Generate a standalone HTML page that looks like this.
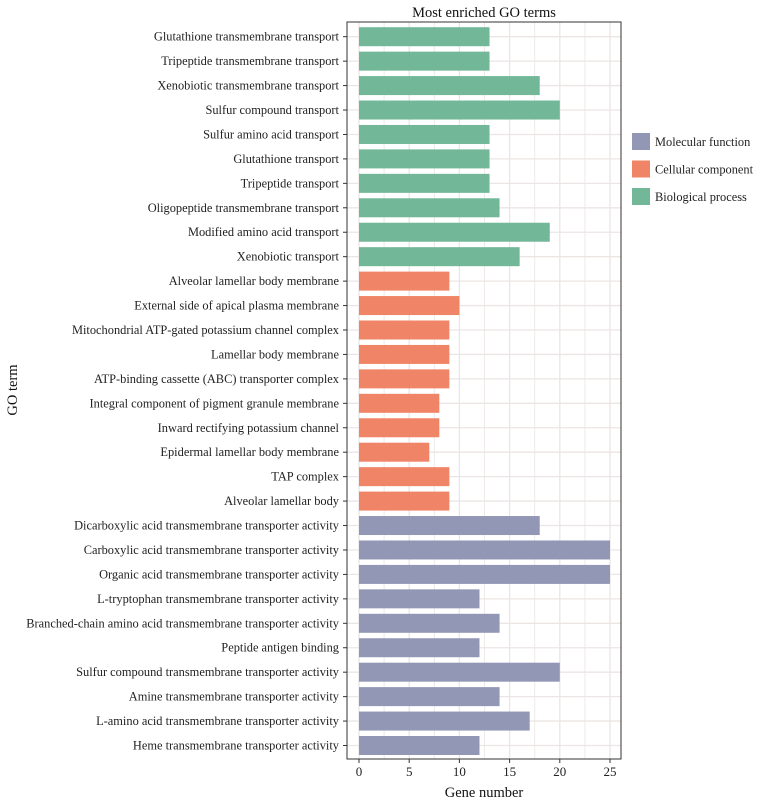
<!DOCTYPE html>
<html><head><meta charset="utf-8"><style>
body{margin:0;background:#fff}
svg{display:block;font-family:"Liberation Serif",serif}
</style></head><body>
<svg id="c" width="765" height="805"></svg>
<script>
const terms=["Glutathione transmembrane transport","Tripeptide transmembrane transport","Xenobiotic transmembrane transport","Sulfur compound transport","Sulfur amino acid transport","Glutathione transport","Tripeptide transport","Oligopeptide transmembrane transport","Modified amino acid transport","Xenobiotic transport","Alveolar lamellar body membrane","External side of apical plasma membrane","Mitochondrial ATP-gated potassium channel complex","Lamellar body membrane","ATP-binding cassette (ABC) transporter complex","Integral component of pigment granule membrane","Inward rectifying potassium channel","Epidermal lamellar body membrane","TAP complex","Alveolar lamellar body","Dicarboxylic acid transmembrane transporter activity","Carboxylic acid transmembrane transporter activity","Organic acid transmembrane transporter activity","L-tryptophan transmembrane transporter activity","Branched-chain amino acid transmembrane transporter activity","Peptide antigen binding","Sulfur compound transmembrane transporter activity","Amine transmembrane transporter activity","L-amino acid transmembrane transporter activity","Heme transmembrane transporter activity"];
const counts=[13,13,18,20,13,13,13,14,19,16,9,10,9,9,9,8,8,7,9,9,18,25,25,12,14,12,20,14,17,12];
const groups=["BP","BP","BP","BP","BP","BP","BP","BP","BP","BP","CC","CC","CC","CC","CC","CC","CC","CC","CC","CC","MF","MF","MF","MF","MF","MF","MF","MF","MF","MF"];
const xTicks=[0,5,10,15,20,25];
const legendLabels=["Molecular function","Cellular component","Biological process"];
const legendGroups=["MF","CC","BP"];
const colors={BP:"#72b797",CC:"#f08466",MF:"#9297b5"};
const NS="http://www.w3.org/2000/svg";
const svg=document.getElementById('c');
const L=347,R=621,T=22,B=759,x0=359,x25=610;
const xs=v=>x0+(x25-x0)*v/25;
const ys=i=>36.7+i*(745.5-36.7)/(terms.length-1);
function mk(t,a,p){const e=document.createElementNS(NS,t);for(const k in a)e.setAttribute(k,a[k]);(p||svg).appendChild(e);return e;}
let bg=mk('rect',{x:L,y:T,width:R-L,height:B-T,fill:'#fff'});


for(let v=0;v<=26.5;v+=2.5){if(xs(v)>R)break;mk('line',{x1:xs(v),x2:xs(v),y1:T,y2:B,stroke:'#ebe5e3','stroke-width':v%5===0?1.3:0.8});}
terms.forEach((t,i)=>{mk('line',{x1:L,x2:R,y1:ys(i),y2:ys(i),stroke:'#ebe5e3','stroke-width':1.3});});
terms.forEach((t,i)=>{
 const r=mk('rect',{x:xs(0),y:ys(i)-9.5,width:xs(counts[i])-xs(0),height:19,fill:colors[groups[i]]});
 
 
 const tx=mk('text',{x:L-8,y:ys(i)+4,'text-anchor':'end','font-size':12.4,fill:'#222'});tx.textContent=t;
 
 
 mk('line',{x1:L-4,x2:L,y1:ys(i),y2:ys(i),stroke:'#333'});
});
mk('rect',{x:L,y:T,width:R-L,height:B-T,fill:'none',stroke:'#333','stroke-width':1});
xTicks.forEach(v=>{
 mk('line',{x1:xs(v),x2:xs(v),y1:B,y2:B+4,stroke:'#333'});
 const tx=mk('text',{x:xs(v),y:B+17,'text-anchor':'middle','font-size':13,fill:'#222'});tx.textContent=v;
 
 
});
let xt=mk('text',{x:(L+R)/2,y:797,'text-anchor':'middle','font-size':14.5,fill:'#111'});xt.textContent='Gene number';


let yt=mk('text',{x:0,y:0,'text-anchor':'middle','font-size':14.5,fill:'#111',transform:'translate(17,390) rotate(-90)'});yt.textContent='GO term';


let tt=mk('text',{x:(L+R)/2,y:17,'text-anchor':'middle','font-size':14.5,fill:'#111'});tt.textContent='Most enriched GO terms';


legendLabels.forEach((lab,i)=>{
 const y=133+i*27.5;
 const k=mk('rect',{x:632,y:y,width:18,height:17,fill:colors[legendGroups[i]]});
 
 
 const tx=mk('text',{x:655,y:y+13,'font-size':12.4,fill:'#222'});tx.textContent=lab;
 
 
});
</script>
</body></html>
